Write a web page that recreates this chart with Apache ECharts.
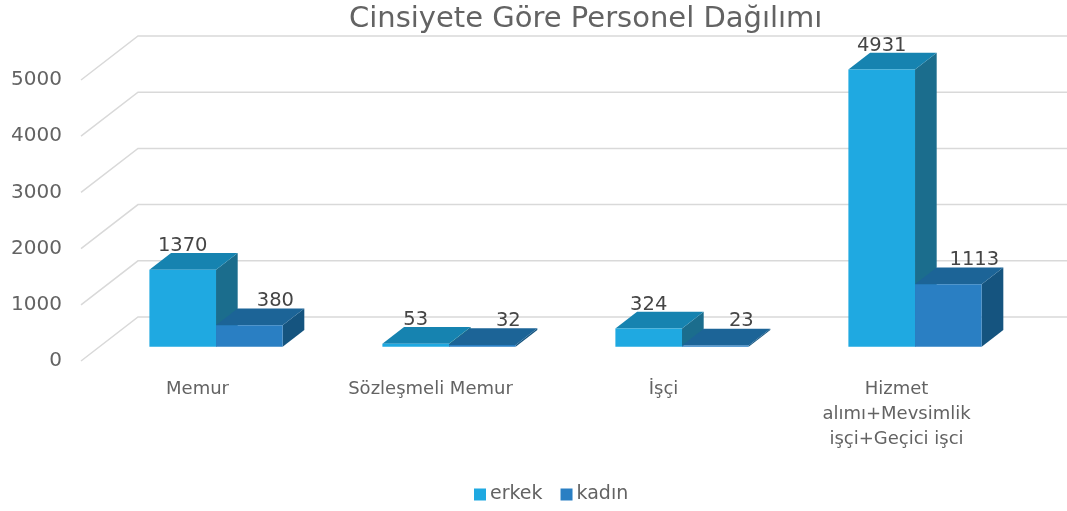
<!DOCTYPE html>
<html>
<head>
<meta charset="utf-8">
<title>Cinsiyete Göre Personel Dağılımı</title>
<script src="https://cdn.jsdelivr.net/npm/echarts@6/dist/echarts.min.js"></script>
<style>
  html, body { margin: 0; padding: 0; background: #fff; }
  #chart { width: 1067px; height: 511px; }
</style>
</head>
<body>
<div id="chart"></div>
<script>
// veriler
var kategoriler = ['Memur', 'Sözleşmeli Memur', 'İşçi', 'Hizmet\nalımı+Mevsimlik\nişçi+Geçici işci'];
var erkek = [1370, 53, 324, 4931];
var kadin = [380, 32, 23, 1113];
var yTicks = [0, 1000, 2000, 3000, 4000, 5000];

var FONT = '"DejaVu Sans", sans-serif';
var GRAY = '#636363';

// 3B derinlik (zemin derinliği) ve çubukların derinlikteki konumu
var DX = 57, DY = -44;
var D0 = 0.325, D1 = 0.705;
var BAR_FRAC = 0.286;

var chart = echarts.init(document.getElementById('chart'));

function wallItem(params, api) {
    var y = api.coord([0, api.value(1)])[1];
    var cs = params.coordSys;
    var x0 = cs.x, x1 = cs.x + cs.width;
    return {
        type: 'polyline',
        shape: { points: [[x0, y], [x0 + DX, y + DY], [x1 + DX + 10, y + DY]] },
        style: { stroke: '#d9d9d9', lineWidth: 1.5, fill: null },
        silent: true
    };
}

function barRenderer(side, colors, labelShift) {
    return function (params, api) {
        var idx = api.value(0), val = api.value(1);
        var c = api.coord([idx, val]);
        var b = api.coord([idx, 0]);
        var band = api.size([1, 0])[0];
        var bw = band * BAR_FRAC;
        var ox = DX * D0, oy = DY * D0;
        var dx = DX * (D1 - D0), dy = DY * (D1 - D0);
        var x0 = c[0] + side * bw + ox;
        var yTop = c[1] + oy;
        var yBot = b[1] + oy;
        return {
            type: 'group',
            children: [
                {
                    type: 'polygon',
                    shape: { points: [[x0 + bw, yTop], [x0 + bw + dx, yTop + dy], [x0 + bw + dx, yBot + dy], [x0 + bw, yBot]] },
                    style: { fill: colors[2] }
                },
                {
                    type: 'polygon',
                    shape: { points: [[x0, yTop], [x0 + dx, yTop + dy], [x0 + bw + dx, yTop + dy], [x0 + bw, yTop]] },
                    style: { fill: colors[1] }
                },
                {
                    type: 'rect',
                    shape: { x: x0, y: yTop, width: bw, height: Math.max(yBot - yTop, 0.5) },
                    style: { fill: colors[0] }
                },
                {
                    type: 'text',
                    style: {
                        text: String(val),
                        x: x0 + bw / 2 + labelShift,
                        y: yTop - 24,
                        align: 'center',
                        verticalAlign: 'middle',
                        fill: '#454545',
                        fontSize: 19.5,
                        fontFamily: FONT
                    },
                    z2: 10
                }
            ]
        };
    };
}

var option = {
    animation: false,
    title: {
        text: 'Cinsiyete Göre Personel Dağılımı',
        left: 349,
        top: 5,
        padding: 0,
        textStyle: { fontSize: 29, fontWeight: 'normal', color: GRAY, fontFamily: FONT }
    },
    legend: {
        data: ['erkek', 'kadın'],
        left: 474,
        top: 485,
        padding: 0,
        icon: 'rect',
        itemWidth: 12,
        itemHeight: 12,
        itemGap: 18,
        textStyle: { fontSize: 19, color: GRAY, fontFamily: FONT, padding: [0, 0, 0, -1] }
    },
    grid: { left: 81, right: 54, top: 80, bottom: 150 },
    xAxis: {
        type: 'category',
        data: kategoriler,
        axisLine: { show: false },
        axisTick: { show: false },
        axisLabel: { fontSize: 18, color: GRAY, fontFamily: FONT, lineHeight: 25, margin: 16, interval: 0 }
    },
    yAxis: {
        type: 'value',
        min: 0,
        max: 5000,
        interval: 1000,
        axisLine: { show: false },
        axisTick: { show: false },
        splitLine: { show: false },
        axisLabel: {
            fontSize: 20, color: GRAY, fontFamily: FONT, margin: 19,
            formatter: function (v) { return String(v); }
        }
    },
    series: [
        {
            name: 'grid',
            type: 'custom',
            renderItem: wallItem,
            data: yTicks.map(function (v) { return [0, v]; }),
            silent: true,
            z: 1
        },
        {
            name: 'erkek',
            type: 'custom',
            renderItem: barRenderer(-1, ['#1FA9E1', '#1683B0', '#1B6D8D'], 0),
            itemStyle: { color: '#1FA9E1' },
            encode: { x: 0, y: 1 },
            data: erkek.map(function (v, i) { return [i, v]; }),
            z: 2
        },
        {
            name: 'kadın',
            type: 'custom',
            renderItem: barRenderer(0, ['#2A7FC3', '#1C6497', '#15547F'], 26),
            itemStyle: { color: '#2A7FC3' },
            encode: { x: 0, y: 1 },
            data: kadin.map(function (v, i) { return [i, v]; }),
            z: 3
        }
    ]
};

chart.setOption(option);
</script>
</body>
</html>
